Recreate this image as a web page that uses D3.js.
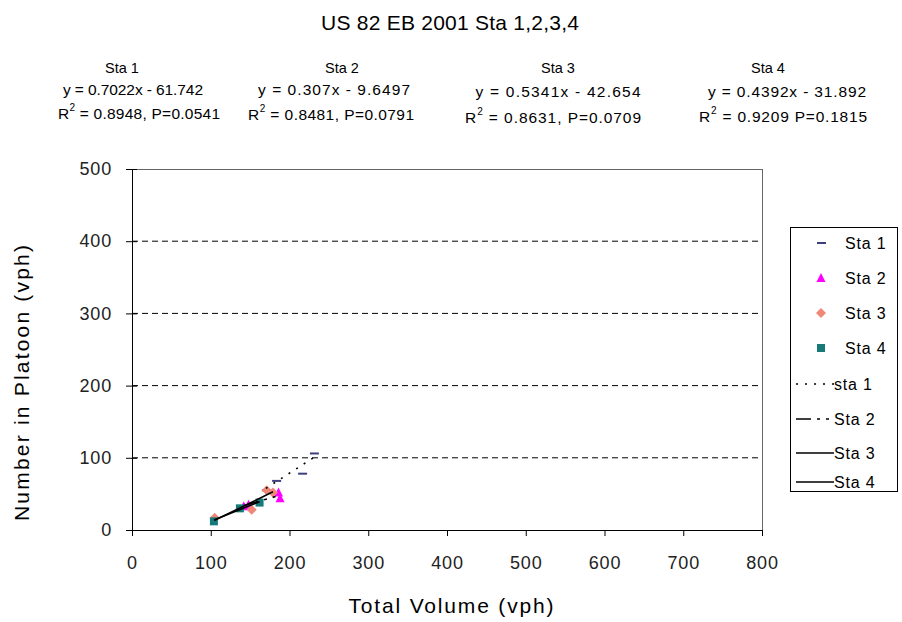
<!DOCTYPE html>
<html>
<head>
<meta charset="utf-8">
<script src="https://cdn.jsdelivr.net/npm/d3@7/dist/d3.min.js"></script>
<style>
  body { margin: 0; background: #fff; }
  svg { display: block; font-family: "Liberation Sans", Arial, sans-serif; }
</style>
</head>
<body>
<svg id="chart" width="902" height="622"></svg>
<script>
// ---- data ----
const stations = ["Sta 1", "Sta 2", "Sta 3", "Sta 4"];
const sta1X = [170, 183, 216, 231];
const sta1Y = [55, 68, 78, 106];
const sta2X = [142, 148, 186, 188];
const sta2Y = [33, 35, 52, 44];
const sta3X = [105, 152, 171, 179];
const sta3Y = [17, 28, 55, 52];
const sta4X = [104, 137, 162];
const sta4Y = [12, 30, 38];
const trendSlope = [0.7022, 0.307, 0.5341, 0.4392];
const trendIntercept = [-61.742, -9.6497, -42.654, -31.892];
const trendNames = ["sta 1", "Sta 2", "Sta 3", "Sta 4"];
const eqLabels = ["y = 0.7022x - 61.742", "y = 0.307x - 9.6497", "y = 0.5341x - 42.654", "y = 0.4392x - 31.892"];
const r2Labels = ["0.8948", "0.8481", "0.8631", "0.9209"];
const pLabels = [", P=0.0541", ", P=0.0791", ", P=0.0709", " P=0.1815"];
const xTicks = [0, 100, 200, 300, 400, 500, 600, 700, 800];
const yTicks = [0, 100, 200, 300, 400, 500];

const seriesX = [sta1X, sta2X, sta3X, sta4X];
const seriesY = [sta1Y, sta2Y, sta3Y, sta4Y];
const colors = ["#3f3f80", "#ff00ff", "#f08878", "#157a78"];
const dashes = ["2,7", "15,6,3,6,3,5", null, null];

const svg = d3.select("#chart");
const pLeft = 132, pRight = 762, pTop = 169, pBottom = 530;
const x = d3.scaleLinear().domain([0, 800]).range([pLeft, pRight]);
const y = d3.scaleLinear().domain([0, 500]).range([pBottom, pTop]);

// title
svg.append("text").attr("x", 450).attr("y", 30).attr("text-anchor", "middle")
  .style("font-size", "21px").attr("textLength", 258).attr("lengthAdjust", "spacing")
  .text("US 82 EB 2001  Sta 1,2,3,4");

// annotations
const labelCenters = [122, 342, 558, 768];
const eqCenters = [133, 334, 558, 787];
const eqWidths = [140, 152, 165, 158];
const r2Centers = [139, 331, 553, 783];
const r2Widths = [162, 166, 176, 168];
const eqY = [95, 95, 97, 97];
const r2Y = [119, 120, 123, 122];
stations.forEach((s, i) => {
  svg.append("text").attr("x", labelCenters[i]).attr("y", 73).attr("text-anchor", "middle")
    .style("font-size", "14.5px").text(s);
  svg.append("text").attr("x", eqCenters[i]).attr("y", eqY[i]).attr("text-anchor", "middle")
    .style("font-size", "15.5px").attr("textLength", eqWidths[i]).attr("lengthAdjust", "spacing")
    .text(eqLabels[i]);
  const t = svg.append("text").attr("x", r2Centers[i]).attr("y", r2Y[i]).attr("text-anchor", "middle")
    .style("font-size", "15.5px").attr("textLength", r2Widths[i]).attr("lengthAdjust", "spacing");
  t.append("tspan").text("R");
  t.append("tspan").attr("dy", -8).style("font-size", "10px").text("2");
  t.append("tspan").attr("dy", 8).text(" = " + r2Labels[i] + pLabels[i]);
});

// gridlines
svg.append("g").selectAll("line").data(yTicks.filter(d => d > 0 && d < 500)).join("line")
  .attr("x1", pLeft).attr("x2", pRight).attr("y1", d => y(d)).attr("y2", d => y(d))
  .attr("stroke", "#000").attr("stroke-width", 1).attr("stroke-dasharray", "6,4");

// border top/right
svg.append("line").attr("x1", pLeft).attr("x2", pRight).attr("y1", pTop + 0.5).attr("y2", pTop + 0.5).attr("stroke", "#666");
svg.append("line").attr("x1", pRight + 0.5).attr("x2", pRight + 0.5).attr("y1", pTop).attr("y2", pBottom).attr("stroke", "#666");

// axes
const xAxis = d3.axisBottom(x).tickValues(xTicks).tickSizeInner(6).tickSizeOuter(0).tickPadding(20);
const gx = svg.append("g").attr("transform", `translate(0,${pBottom})`).call(xAxis);
gx.selectAll(".tick line").attr("y1", 0);
const yAxis = d3.axisLeft(y).tickValues(yTicks).tickSizeInner(6).tickSizeOuter(0).tickPadding(14);
const gy = svg.append("g").attr("transform", `translate(${pLeft},0)`).call(yAxis);
gy.selectAll(".tick line").attr("x1", 5).attr("x2", -6);
[gx, gy].forEach(g => {
  g.select(".domain").attr("stroke", "#000");
  g.selectAll(".tick line").attr("stroke", "#000");
  g.selectAll("text").style("font-size", "18px").style("letter-spacing", "0.8px")
    .attr("fill", "#222").style("font-family", "Liberation Sans, Arial, sans-serif");
});

// axis titles
svg.append("text").attr("x", 451).attr("y", 613).attr("text-anchor", "middle")
  .style("font-size", "21px").attr("textLength", 205).attr("lengthAdjust", "spacing")
  .text("Total Volume (vph)");
svg.append("text").attr("transform", "translate(29,383) rotate(-90)").attr("text-anchor", "middle")
  .style("font-size", "21px").attr("textLength", 276).attr("lengthAdjust", "spacing")
  .text("Number in Platoon (vph)");

// markers
function drawMarker(g, i, cx, cy) {
  if (i === 0) {
    g.append("rect").attr("x", cx - 4).attr("y", cy - 1).attr("width", 9).attr("height", 2).attr("fill", colors[0]);
  } else if (i === 1) {
    g.append("path").attr("d", `M${cx},${cy - 5}L${cx + 4.5},${cy + 4}L${cx - 4.5},${cy + 4}Z`).attr("fill", colors[1]);
  } else if (i === 2) {
    g.append("path").attr("d", `M${cx},${cy - 5}L${cx + 5},${cy}L${cx},${cy + 5}L${cx - 5},${cy}Z`).attr("fill", colors[2]);
  } else {
    g.append("rect").attr("x", cx - 4).attr("y", cy - 4).attr("width", 8).attr("height", 8).attr("fill", colors[3]);
  }
}

const pts = svg.append("g");
seriesX.forEach((xs, i) => {
  xs.forEach((v, j) => drawMarker(pts, i, x(v), y(seriesY[i][j])));
});

// trend lines
const trends = svg.append("g");
seriesX.forEach((xs, i) => {
  const x0 = d3.min(xs), x1 = d3.max(xs);
  const l = trends.append("line")
    .attr("x1", x(x0)).attr("y1", y(trendSlope[i] * x0 + trendIntercept[i]))
    .attr("x2", x(x1)).attr("y2", y(trendSlope[i] * x1 + trendIntercept[i]))
    .attr("stroke", "#000").attr("stroke-width", 1.6);
  if (dashes[i]) l.attr("stroke-dasharray", dashes[i]);
});

// legend
const lg = svg.append("g");
lg.append("rect").attr("x", 790.5).attr("y", 227.5).attr("width", 107).attr("height", 264)
  .attr("fill", "#fff").attr("stroke", "#000");
const rowY = [243, 278, 313, 348, 384, 419, 453, 482];
stations.forEach((s, i) => {
  drawMarker(lg, i, 821, rowY[i]);
  lg.append("text").attr("x", 845).attr("y", rowY[i] + 6).style("font-size", "16px")
    .style("letter-spacing", "0.8px").text(s);
});
trendNames.forEach((s, i) => {
  const yy = rowY[i + 4];
  const l = lg.append("line").attr("x1", 796).attr("x2", 834).attr("y1", yy).attr("y2", yy)
    .attr("stroke", "#000").attr("stroke-width", 1.6);
  if (dashes[i]) l.attr("stroke-dasharray", dashes[i]);
  lg.append("text").attr("x", 834).attr("y", yy + 6).style("font-size", "16px")
    .style("letter-spacing", "0.8px").text(s);
});
</script>
</body>
</html>
